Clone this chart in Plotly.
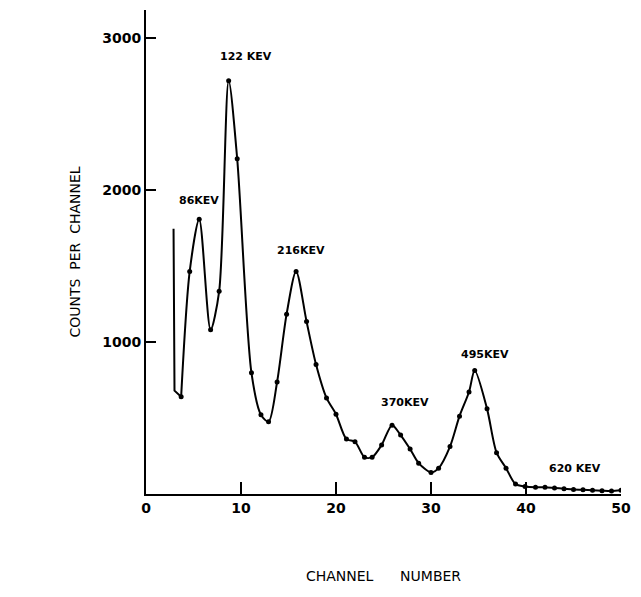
import plotly.graph_objects as go

# Lead-in (steep edge at the start of the spectrum)
lead_ch = [2.9, 3.0, 3.7]
lead_counts = [1745, 680, 640]

# Measured spectrum points
channels = [3.7, 4.6, 5.6, 6.8, 7.7, 8.7, 9.6, 11.1, 12.1, 12.9, 13.8, 14.8, 15.8, 16.9,
            17.9, 19.0, 20.0, 21.1, 22.0, 23.0, 23.8, 24.8, 25.9, 26.8, 27.8, 28.7, 30.0,
            30.8, 32.0, 33.0, 34.0, 34.6, 35.9, 36.9, 37.9, 38.9, 39.9, 41.0, 42.0, 43.0,
            44.0, 45.0, 46.0, 47.0, 48.0, 49.0, 50.0]
counts = [640, 1464, 1808, 1080, 1333, 2719, 2205, 797, 521, 475, 737, 1183, 1464, 1135,
          852, 632, 525, 361, 344, 242, 242, 322, 453, 388, 296, 203, 142,
          170, 312, 512, 671, 812, 560, 272, 170, 65, 50, 45, 45, 40,
          35, 30, 28, 25, 22, 20, 25]

peak_labels = ["86KEV", "122 KEV", "216KEV", "370KEV", "495KEV", "620 KEV"]
label_ch = [5.6, 10.5, 16.3, 27.3, 35.7, 45.2]
label_counts = [1930, 2875, 1600, 600, 915, 165]

x_ticks = [0, 10, 20, 30, 40, 50]
y_ticks = [1000, 2000, 3000]

fig = go.Figure()
fig.add_trace(go.Scatter(x=lead_ch, y=lead_counts, mode="lines",
                         line=dict(color="black", width=2), hoverinfo="skip"))
fig.add_trace(go.Scatter(x=channels, y=counts, mode="lines+markers",
                         line=dict(color="black", width=2, shape="spline", smoothing=0.8),
                         marker=dict(color="black", size=5)))

for t, cx, cy in zip(peak_labels, label_ch, label_counts):
    fig.add_annotation(x=cx, y=cy, text=t, showarrow=False,
                       font=dict(family="DejaVu Sans", size=11, color="black", weight="bold"),
                       xanchor="center", yanchor="middle")

fig.update_layout(
    width=641, height=597,
    margin=dict(l=146, r=12, t=10, b=103),
    paper_bgcolor="white", plot_bgcolor="white",
    showlegend=False,
    font=dict(family="DejaVu Sans", color="black"),
)
fig.update_xaxes(range=[0, 50], tickvals=x_ticks, ticktext=[str(v) for v in x_ticks],
                 ticks="inside", ticklen=12, tickwidth=1.5, tickcolor="black",
                 showline=True, linewidth=2, linecolor="black", showgrid=False, zeroline=False,
                 tickfont=dict(family="DejaVu Sans", size=14, color="black", weight="bold"),
                 title=dict(text="CHANNEL&nbsp;&nbsp;&nbsp;&nbsp;&nbsp;&nbsp;NUMBER",
                            font=dict(family="DejaVu Sans", size=14, color="black"),
                            standoff=56))
fig.update_yaxes(range=[0, 3184], tickvals=y_ticks, ticktext=[str(v) for v in y_ticks],
                 ticks="inside", ticklen=10, tickwidth=1.5, tickcolor="black",
                 showline=True, linewidth=2, linecolor="black", showgrid=False, zeroline=False,
                 tickfont=dict(family="DejaVu Sans", size=14, color="black", weight="bold"),
                 title=dict(text="COUNTS  PER  CHANNEL",
                            font=dict(family="DejaVu Sans", size=14, color="black"),
                            standoff=18))

fig.write_html("out.html")
